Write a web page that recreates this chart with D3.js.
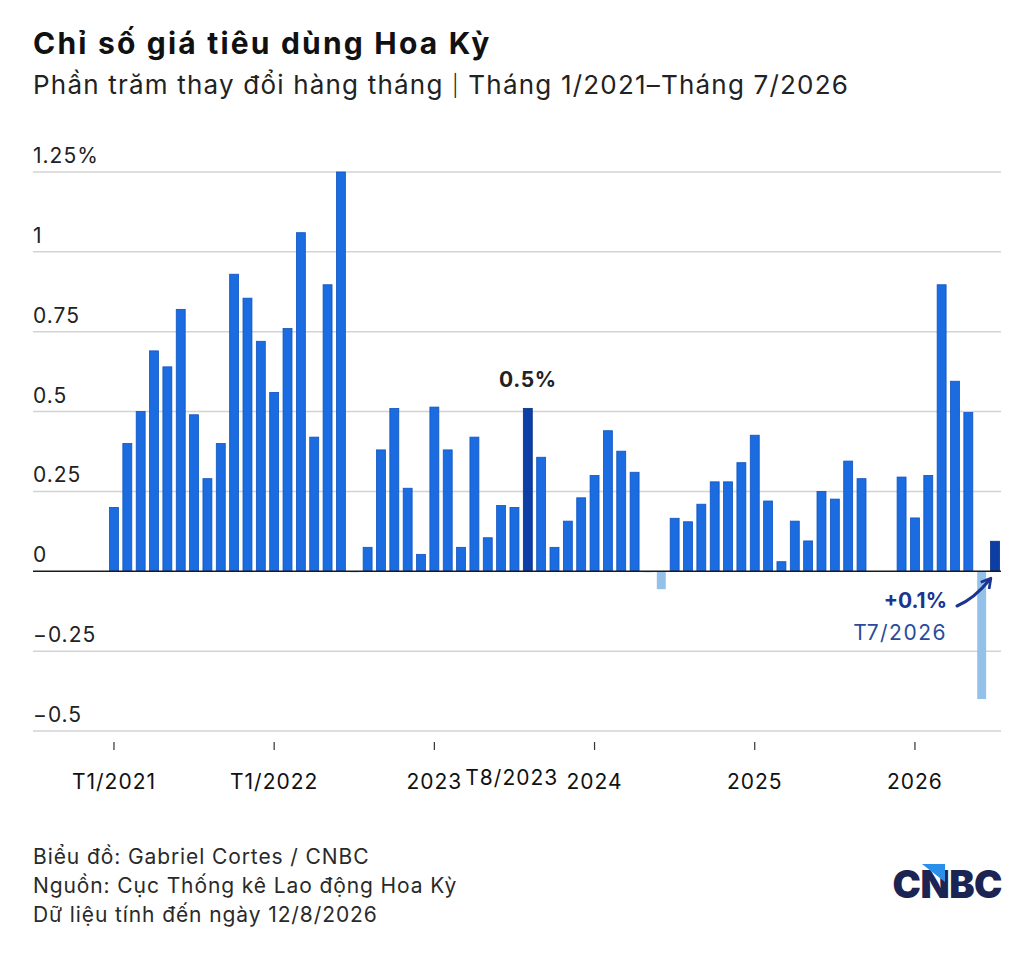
<!DOCTYPE html>
<html lang="vi">
<head>
<meta charset="utf-8">
<title>Chỉ số giá tiêu dùng Hoa Kỳ</title>
<script src="https://d3js.org/d3.v7.min.js"></script>
<style>
  body { margin: 0; background: #fff; }
  svg text { font-family: Inter, "Noto Sans", sans-serif; }
</style>
</head>
<body>
<script>
// months Jan 2021 .. Jul 2026
var months = [
  "2021-01","2021-02","2021-03","2021-04","2021-05","2021-06","2021-07","2021-08","2021-09","2021-10","2021-11","2021-12",
  "2022-01","2022-02","2022-03","2022-04","2022-05","2022-06","2022-07","2022-08","2022-09","2022-10","2022-11","2022-12",
  "2023-01","2023-02","2023-03","2023-04","2023-05","2023-06","2023-07","2023-08","2023-09","2023-10","2023-11","2023-12",
  "2024-01","2024-02","2024-03","2024-04","2024-05","2024-06","2024-07","2024-08","2024-09","2024-10","2024-11","2024-12",
  "2025-01","2025-02","2025-03","2025-04","2025-05","2025-06","2025-07","2025-08","2025-09","2025-10","2025-11","2025-12",
  "2026-01","2026-02","2026-03","2026-04","2026-05","2026-06","2026-07"
];
// monthly % change (null = no data)
var cpi = [
  0.2, 0.4, 0.5, 0.69, 0.64, 0.82, 0.49, 0.29, 0.4, 0.93, 0.855, 0.72,
  0.56, 0.76, 1.06, 0.42, 0.897, 1.25, 0.0, 0.075, 0.38, 0.51, 0.26, 0.053,
  0.514, 0.38, 0.075, 0.42, 0.105, 0.206, 0.2, 0.51, 0.357, 0.075, 0.157, 0.23,
  0.3, 0.44, 0.376, 0.31, 0.0, -0.056, 0.166, 0.155, 0.21, 0.28, 0.28, 0.34,
  0.426, 0.22, 0.03, 0.157, 0.095, 0.25, 0.226, 0.345, 0.29, null, null, 0.295,
  0.167, 0.3, 0.897, 0.595, 0.497, -0.4, 0.094
];
var highlight = ["2023-08", "2026-07"];
var yTicks = [-0.5, -0.25, 0, 0.25, 0.5, 0.75, 1, 1.25];
var yTickLabels = ["\u22120.5", "\u22120.25", "0", "0.25", "0.5", "0.75", "1", "1.25%"];
var xTickMonths = ["2021-01", "2022-01", "2023-01", "2024-01", "2025-01", "2026-01"];
var xTickLabels = ["T1/2021", "T1/2022", "2023", "2024", "2025", "2026"];
var footer = ["Biểu đồ: Gabriel Cortes / CNBC", "Nguồn: Cục Thống kê Lao động Hoa Kỳ", "Dữ liệu tính đến ngày 12/8/2026"];

var W = 1024, H = 959;
var svg = d3.select("body").append("svg")
  .attr("width", W)
  .attr("height", H);

svg.append("text")
  .attr("x", 33).attr("y", 54)
  .attr("font-size", "30px").attr("font-weight", "bold").attr("fill", "#111")
  .attr("letter-spacing", "2.2px")
  .text("Chỉ số giá tiêu dùng Hoa Kỳ");
var sub = svg.append("text")
  .attr("x", 33).attr("y", 94)
  .attr("font-size", "26px").attr("fill", "#222")
  .attr("letter-spacing", "1.2px");
sub.append("tspan").text("Phần trăm thay đổi hàng tháng ");
sub.append("tspan").attr("font-size", "21px").attr("font-weight", 300).attr("dy", -1).text("|");
sub.append("tspan").attr("dy", 1).text(" Tháng 1/2021–Tháng 7/2026");

var x = d3.scaleBand()
  .domain(months)
  .range([107.3, 1001.7])
  .paddingInner(0.33)
  .paddingOuter(0.165);

var y = d3.scaleLinear()
  .domain([-0.5, 1.25])
  .range([731, 172]);

// grid
svg.append("g").selectAll("line")
  .data(yTicks.filter(d => d !== 0))
  .enter().append("line")
  .attr("x1", 33).attr("x2", 1001)
  .attr("y1", d => y(d)).attr("y2", d => y(d))
  .attr("stroke", "#d3d3d3").attr("stroke-width", 1.5);

svg.append("g").selectAll("text")
  .data(yTicks)
  .enter().append("text")
  .attr("x", 33)
  .attr("y", d => y(d) - 9)
  .attr("font-size", "21px").attr("fill", "#222")
  .attr("letter-spacing", "1px")
  .text((d, i) => yTickLabels[i]);

// bars
var rows = months.map((m, i) => ({ m: m, v: cpi[i] })).filter(d => d.v !== null);

svg.append("g").selectAll("rect")
  .data(rows)
  .enter().append("rect")
  .attr("x", d => x(d.m))
  .attr("width", x.bandwidth())
  .attr("y", d => d.v > 0 ? y(d.v) : y(0))
  .attr("height", d => Math.max(1, Math.abs(y(d.v) - y(0))))
  .attr("fill", d => d.v <= 0 ? "#93c1ea" : highlight.includes(d.m) ? "#0d3ea6" : "#1a6ce0")
  .attr("stroke", d => d.v <= 0 ? "none" : highlight.includes(d.m) ? "#0a2f85" : "#1053c0")
  .attr("stroke-width", 0.8);

// zero line
svg.append("line")
  .attr("x1", 33).attr("x2", 1001)
  .attr("y1", y(0)).attr("y2", y(0))
  .attr("stroke", "#1b1b1b").attr("stroke-width", 1.6);

// x axis
var xAxis = d3.axisBottom(x)
  .tickValues(xTickMonths)
  .tickSize(8)
  .tickPadding(24)
  .tickFormat((d, i) => xTickLabels[i]);

var gx = svg.append("g")
  .attr("transform", "translate(0,742)")
  .call(xAxis);
gx.select(".domain").remove();
gx.selectAll(".tick line").attr("stroke", "#333").attr("stroke-width", 1.2);
gx.selectAll(".tick text")
  .attr("font-size", "21px").attr("fill", "#111")
  .attr("letter-spacing", "1px")
  .attr("font-family", "Inter, 'Noto Sans', sans-serif");

svg.append("text")
  .attr("x", x("2023-08") + x.bandwidth() / 2 - 16)
  .attr("y", 785)
  .attr("text-anchor", "middle")
  .attr("font-size", "21px").attr("fill", "#111")
  .attr("letter-spacing", "1px")
  .text("T8/2023");

// annotations
var aug = rows.find(d => d.m === "2023-08");
svg.append("text")
  .attr("x", x(aug.m) + x.bandwidth() / 2)
  .attr("y", y(aug.v) - 21)
  .attr("text-anchor", "middle")
  .attr("font-size", "21px").attr("font-weight", "bold").attr("fill", "#222")
  .attr("letter-spacing", "0.6px")
  .text("0.5%");

var jul = rows.find(d => d.m === "2026-07");
var jx = x(jul.m) + x.bandwidth() / 2;
svg.append("text")
  .attr("x", 947).attr("y", 608)
  .attr("text-anchor", "end")
  .attr("font-size", "21px").attr("font-weight", "bold").attr("fill", "#1a3590")
  .text("+0.1%");
svg.append("text")
  .attr("x", 947).attr("y", 640)
  .attr("text-anchor", "end")
  .attr("font-size", "21px").attr("fill", "#2a4a9c")
  .attr("letter-spacing", "1.5px")
  .text("T7/2026");

svg.append("defs").append("marker")
  .attr("id", "ah")
  .attr("viewBox", "0 0 10 10")
  .attr("refX", 7).attr("refY", 5)
  .attr("markerWidth", 4.5).attr("markerHeight", 4.5)
  .attr("orient", "auto")
  .append("path")
  .attr("d", "M1,1 L8,5 L1,9")
  .attr("fill", "none").attr("stroke", "#1a3590").attr("stroke-width", 2)
  .attr("stroke-linejoin", "round");

svg.append("path")
  .attr("d", "M957,606 Q974,599 " + (jx - 5) + "," + (y(0) + 8))
  .attr("fill", "none")
  .attr("stroke", "#1a3590").attr("stroke-width", 3)
  .attr("stroke-linecap", "round")
  .attr("marker-end", "url(#ah)");

// footer
svg.append("g").selectAll("text")
  .data(footer)
  .enter().append("text")
  .attr("x", 33)
  .attr("y", (d, i) => 864 + i * 29)
  .attr("font-size", "21px").attr("fill", "#2a2a2a")
  .attr("letter-spacing", "0.9px")
  .text(d => d);

// logo
var logo = svg.append("g");
logo.append("text")
  .attr("x", 1002).attr("y", 898)
  .attr("text-anchor", "end")
  .attr("font-size", "38px").attr("font-weight", 900)
  .attr("letter-spacing", "-0.5px")
  .attr("fill", "#1b2452")
  .text("CNBC");
logo.append("path")
  .attr("d", "M922,864 L945,864 L945,882 Z")
  .attr("fill", "#2a8fe8");
</script>
</body>
</html>
